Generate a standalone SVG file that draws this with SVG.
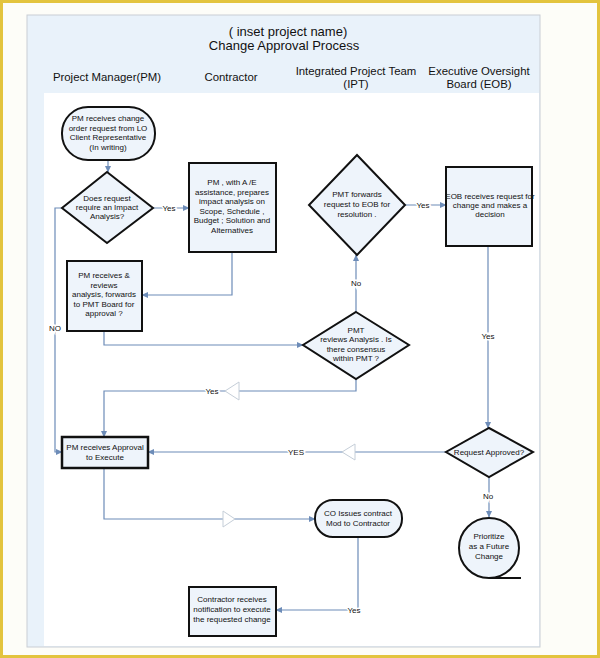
<svg xmlns="http://www.w3.org/2000/svg" width="600" height="658" viewBox="0 0 600 658">
<style>
.node{fill:#eef4fb;stroke:#111;stroke-width:2}
.t{font-family:"Liberation Sans",Arial,sans-serif;font-size:8px;fill:#111;text-anchor:middle}
.h{font-family:"Liberation Sans",Arial,sans-serif;font-size:11.4px;fill:#111;text-anchor:middle}
.ti{font-family:"Liberation Sans",Arial,sans-serif;font-size:13px;fill:#111;text-anchor:middle}
.c{fill:none;stroke:#6d8cb8;stroke-width:1.2}
.lbl{font-family:"Liberation Sans",Arial,sans-serif;font-size:8px;fill:#111;text-anchor:middle;stroke:#fff;stroke-width:3;paint-order:stroke}
.tri{fill:#fff;stroke:#c5ced8;stroke-width:1}
</style>
<defs>
<marker id="ar" markerWidth="7" markerHeight="7" refX="6" refY="3.5" orient="auto" markerUnits="userSpaceOnUse">
<path d="M0,0.5 L6.5,3.5 L0,6.5 Z" fill="#6d8cb8"/>
</marker>
</defs>
<rect x="0" y="0" width="600" height="658" fill="#fdfdf8"/>
<rect x="1.5" y="1.5" width="597" height="655" fill="none" stroke="#e3c43e" stroke-width="3"/>
<g id="frame">
<rect x="27" y="15" width="513" height="632" fill="#e9f2fa" stroke="#c9ced4" stroke-width="1"/>
<rect x="44" y="93" width="495" height="553" fill="#ffffff"/>
</g>
<g id="header">
<text class="ti" x="288" y="36">(   inset project name)</text>
<text class="ti" x="284" y="50">Change Approval Process</text>
<text class="h" x="107" y="81">Project Manager(PM)</text>
<text class="h" x="231" y="81">Contractor</text>
<text class="h" x="356" y="75">Integrated Project Team</text>
<text class="h" x="356" y="88">(IPT)</text>
<text class="h" x="479" y="75">Executive Oversight</text>
<text class="h" x="479" y="88">Board (EOB)</text>
</g>
<g id="connectors">
<path class="c" d="M108,160 L108,172" marker-end="url(#ar)"/>
<path class="c" d="M153,208 L189,208" marker-end="url(#ar)"/>
<text class="lbl" x="169" y="211">Yes</text>
<path class="c" d="M62,208 L55,208 L55,452 L62,452" marker-end="url(#ar)"/>
<text class="lbl" x="55" y="331">NO</text>
<path class="c" d="M232,252 L232,295 L142,295" marker-end="url(#ar)"/>
<path class="c" d="M104,331 L104,345 L303,345" marker-end="url(#ar)"/>
<path class="c" d="M356,312 L356,255" marker-end="url(#ar)"/>
<text class="lbl" x="356" y="286">No</text>
<path class="c" d="M405,205 L446,205" marker-end="url(#ar)"/>
<text class="lbl" x="423" y="208">Yes</text>
<path class="c" d="M488,246 L488,428" marker-end="url(#ar)"/>
<text class="lbl" x="488" y="339">Yes</text>
<path class="c" d="M356,379 L356,391 L104,391 L104,437" marker-end="url(#ar)"/>
<polygon class="tri" points="225,391 239,382 239,400"/>
<text class="lbl" x="212" y="394">Yes</text>
<path class="c" d="M446,452 L148,452" marker-end="url(#ar)"/>
<polygon class="tri" points="342,452 355,444 355,460"/>
<text class="lbl" x="296" y="455">YES</text>
<path class="c" d="M489,477 L489,517" marker-end="url(#ar)"/>
<text class="lbl" x="488" y="499">No</text>
<path class="c" d="M104,468 L104,519 L315,519" marker-end="url(#ar)"/>
<polygon class="tri" points="235,519 223,511 223,527"/>
<path class="c" d="M358,537 L358,610 L276,610" marker-end="url(#ar)"/>
<text class="lbl" x="354" y="613">Yes</text>
</g>
<g id="start">
<rect class="node" x="62" y="107" width="93" height="53" rx="26" ry="26"/>
<text class="t" x="108" y="121">PM receives change</text>
<text class="t" x="108" y="130.5">order request from LO</text>
<text class="t" x="108" y="140">Client Representative</text>
<text class="t" x="108" y="149.5">(In writing)</text>
</g>
<g id="d-impact">
<polygon class="node" points="107,172 153,208 107,243 62,208"/>
<text class="t" x="107" y="201">Does request</text>
<text class="t" x="107" y="210">require an Impact</text>
<text class="t" x="107" y="219">Analysis?</text>
</g>
<g id="contractor-analysis">
<rect class="node" x="189" y="163" width="87" height="89"/>
<text class="t" x="232" y="185">PM , with A /E</text>
<text class="t" x="232" y="194.5">assistance, prepares</text>
<text class="t" x="232" y="204">impact analysis on</text>
<text class="t" x="232" y="213.5">Scope, Schedule ,</text>
<text class="t" x="232" y="223">Budget ; Solution and</text>
<text class="t" x="232" y="232.5">Alternatives</text>
</g>
<g id="d-forward">
<polygon class="node" points="357,155 405,205 357,255 309,205"/>
<text class="t" x="357" y="197">PMT forwards</text>
<text class="t" x="357" y="207">request to EOB for</text>
<text class="t" x="357" y="217">resolution .</text>
</g>
<g id="eob-decision">
<rect class="node" x="446" y="167" width="86" height="79"/>
<text class="t" x="490" y="199">EOB receives request for</text>
<text class="t" x="490" y="208">change and makes a</text>
<text class="t" x="490" y="217">decision</text>
</g>
<g id="pm-review">
<rect class="node" x="67" y="261" width="75" height="70"/>
<text class="t" x="104" y="278">PM receives &amp;</text>
<text class="t" x="104" y="287.5">reviews</text>
<text class="t" x="104" y="297">analysis, forwards</text>
<text class="t" x="104" y="306.5">to PMT Board for</text>
<text class="t" x="104" y="316">approval ?</text>
</g>
<g id="d-consensus">
<polygon class="node" points="356,312 409,345 356,379 303,345"/>
<text class="t" x="356" y="333">PMT</text>
<text class="t" x="356" y="342">reviews Analysis . Is</text>
<text class="t" x="356" y="351.5">there consensus</text>
<text class="t" x="356" y="361">within PMT ?</text>
</g>
<g id="pm-approval">
<rect class="node" x="62" y="437" width="86" height="31" style="stroke-width:2.5"/>
<text class="t" x="105" y="450">PM receives Approval</text>
<text class="t" x="105" y="459.5">to Execute</text>
</g>
<g id="d-approved">
<polygon class="node" points="489,428 533,452 489,477 446,452"/>
<text class="t" x="489" y="455">Request Approved?</text>
</g>
<g id="future">
<circle class="node" cx="489" cy="548" r="30"/>
<line x1="489" y1="578" x2="521" y2="578" stroke="#111" stroke-width="2"/>
<text class="t" x="489" y="539">Prioritize</text>
<text class="t" x="489" y="549">as a Future</text>
<text class="t" x="489" y="559">Change</text>
</g>
<g id="co-issue">
<rect class="node" x="315" y="500" width="87" height="37" rx="18" ry="18"/>
<text class="t" x="358" y="516">CO Issues contract</text>
<text class="t" x="358" y="526">Mod to Contractor</text>
</g>
<g id="contractor-notify">
<rect class="node" x="189" y="587" width="87" height="49"/>
<text class="t" x="232" y="602">Contractor receives</text>
<text class="t" x="232" y="612">notification to execute</text>
<text class="t" x="232" y="622">the requested change</text>
</g>
</svg>
